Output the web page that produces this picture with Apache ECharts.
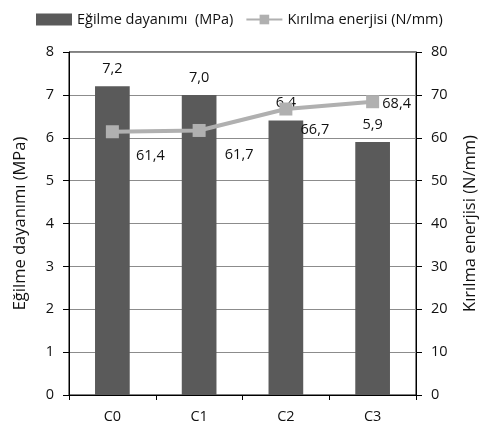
<!DOCTYPE html>
<html>
<head>
<meta charset="utf-8">
<script src="https://cdn.jsdelivr.net/npm/echarts@6/dist/echarts.min.js"></script>
<style>
  html, body { margin: 0; padding: 0; background: #ffffff; overflow: hidden; }
  #chart { width: 487px; height: 434px; }
</style>
</head>
<body>
<div id="chart"></div>
<script>
const categories = ['C0', 'C1', 'C2', 'C3'];
const strength = [7.2, 7.0, 6.4, 5.9];       // MPa
const energy = [61.4, 61.7, 66.7, 68.4];     // N/mm
const strengthName = 'Eğilme dayanımı  (MPa)';
const energyName = 'Kırılma enerjisi (N/mm)';

// label offsets for the line values, per point
const energyLabelOffsets = [[38, 24], [40, 24], [29, 21], [24, 2]];

const fmt = v => String(v.toFixed(1)).replace('.', ',');
const font = '"Open Sans", sans-serif';
const textColor = '#111';
const fs = 14.5;

const chart = echarts.init(document.getElementById('chart'));
chart.setOption({
  animation: false,
  textStyle: { fontFamily: font },
  legend: {
    top: 7,
    left: 31,
    itemGap: 12,
    itemWidth: 36,
    itemHeight: 12,
    textStyle: { fontSize: fs, color: textColor, fontFamily: font },
    data: [
      { name: strengthName, icon: 'rect' },
      { name: energyName }
    ]
  },
  grid: { left: 69, right: 63, top: 52, bottom: 39, show: true, borderColor: '#000', borderWidth: 1 },
  xAxis: {
    type: 'category',
    data: categories,
    axisLine: { lineStyle: { color: '#000', width: 1 } },
    axisTick: { show: true, alignWithLabel: false, length: 5, lineStyle: { color: '#000' } },
    axisLabel: { fontSize: fs, color: textColor, margin: 14, fontFamily: font }
  },
  yAxis: [
    {
      type: 'value', min: 0, max: 8, interval: 1,
      name: 'Eğilme dayanımı (MPa)',
      nameLocation: 'middle', nameGap: 40, nameRotate: 90,
      nameTextStyle: { fontSize: 16.5, color: textColor, fontFamily: font },
      axisLine: { show: true, lineStyle: { color: '#000' } },
      axisTick: { show: true, length: 6, lineStyle: { color: '#000' } },
      axisLabel: { fontSize: fs, color: textColor, margin: 15, fontFamily: font },
      splitLine: { show: true, lineStyle: { color: '#8c8c8c', width: 1 } }
    },
    {
      type: 'value', min: 0, max: 80, interval: 10,
      name: 'Kırılma enerjisi (N/mm)',
      nameLocation: 'middle', nameGap: 46, nameRotate: 90,
      nameTextStyle: { fontSize: 16.5, color: textColor, fontFamily: font },
      axisLine: { show: true, lineStyle: { color: '#000' } },
      axisTick: { show: true, length: 6, lineStyle: { color: '#000' } },
      axisLabel: { fontSize: fs, color: textColor, margin: 15, fontFamily: font },
      splitLine: { show: false }
    }
  ],
  series: [
    {
      name: strengthName,
      type: 'bar',
      yAxisIndex: 0,
      data: strength,
      barWidth: '40%',
      itemStyle: { color: '#5a5a5a' },
      label: {
        show: true, position: 'top', distance: 10,
        fontSize: fs, color: textColor, fontFamily: font,
        formatter: p => fmt(p.value)
      },
      z: 2
    },
    {
      name: energyName,
      type: 'line',
      yAxisIndex: 1,
      data: energy.map((v, i) => ({
        value: v,
        label: { offset: energyLabelOffsets[i] }
      })),
      symbol: 'rect',
      symbolSize: 13,
      lineStyle: { color: '#b0b0b0', width: 4 },
      itemStyle: { color: '#b0b0b0' },
      label: {
        show: true, position: 'inside',
        fontSize: fs, color: textColor, fontFamily: font,
        formatter: p => fmt(p.value)
      },
      z: 3
    }
  ]
});
</script>
</body>
</html>
